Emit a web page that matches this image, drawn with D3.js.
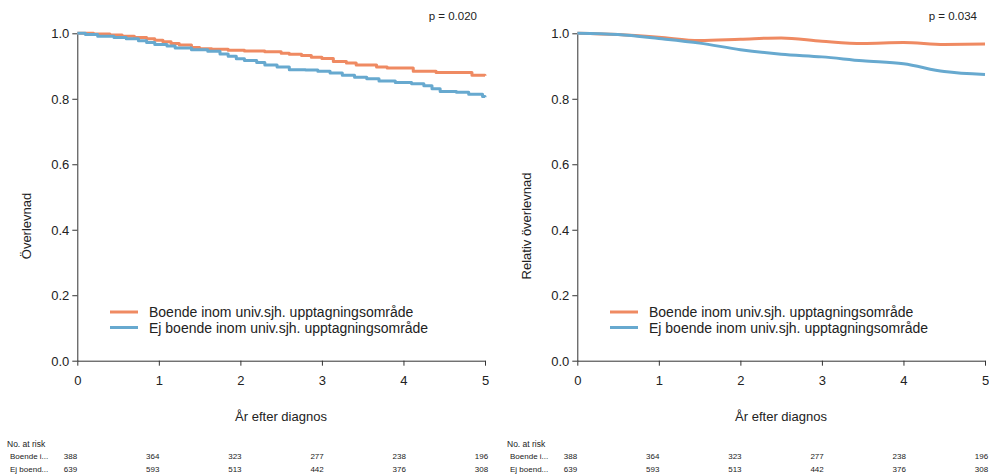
<!DOCTYPE html>
<html>
<head>
<meta charset="utf-8">
<script src="https://cdn.jsdelivr.net/npm/d3@7"></script>
<style>
  body { margin: 0; background: #fff; }
  svg { display: block; font-family: "Liberation Sans", Arial, sans-serif; }
</style>
</head>
<body>
<svg id="chart" width="989" height="475"></svg>
<script>
// group labels
const groups = ["Boende inom univ.sjh. upptagningsområde", "Ej boende inom univ.sjh. upptagningsområde"];
const groupShort = ["Boende i...", "Ej boend..."];
const colors = ["#EF8A62", "#67A9CF"];

// Kaplan-Meier steps (years, survival)
const kmBoende = [
  [0.00, 1.000], [0.20, 0.998], [0.40, 0.995], [0.55, 0.991], [0.70, 0.987],
  [0.85, 0.983], [0.95, 0.979], [1.05, 0.974], [1.15, 0.969], [1.25, 0.964],
  [1.40, 0.957], [1.50, 0.953], [1.65, 0.951], [1.85, 0.948], [2.05, 0.946],
  [2.30, 0.944], [2.50, 0.939], [2.60, 0.936], [2.75, 0.932], [2.87, 0.927],
  [3.00, 0.923], [3.14, 0.914], [3.30, 0.909], [3.42, 0.903], [3.67, 0.897],
  [3.80, 0.894], [4.12, 0.884], [4.40, 0.880], [4.84, 0.872], [5.00, 0.870]
];
const kmEjBoende = [
  [0.00, 1.000], [0.10, 0.996], [0.25, 0.991], [0.45, 0.987], [0.60, 0.983],
  [0.75, 0.977], [0.85, 0.972], [0.95, 0.966], [1.10, 0.961], [1.20, 0.955],
  [1.40, 0.950], [1.60, 0.945], [1.75, 0.937], [1.85, 0.930], [1.95, 0.922],
  [2.05, 0.917], [2.20, 0.911], [2.30, 0.903], [2.45, 0.897], [2.60, 0.889],
  [2.80, 0.888], [2.95, 0.884], [3.10, 0.879], [3.25, 0.872], [3.40, 0.866],
  [3.55, 0.861], [3.70, 0.854], [3.90, 0.850], [4.10, 0.846], [4.25, 0.840],
  [4.35, 0.831], [4.45, 0.822], [4.65, 0.820], [4.80, 0.814], [4.97, 0.807],
  [5.00, 0.805]
];

// relative survival (years, relative survival)
const relBoende = [
  [0, 1.000], [0.5, 0.996], [1, 0.988], [1.5, 0.978], [2, 0.982], [2.5, 0.986],
  [3, 0.976], [3.5, 0.969], [4, 0.972], [4.5, 0.966], [5, 0.967]
];
const relEjBoende = [
  [0, 1.000], [0.5, 0.996], [1, 0.984], [1.5, 0.970], [2, 0.950], [2.5, 0.936],
  [3, 0.928], [3.5, 0.916], [4, 0.907], [4.5, 0.883], [5, 0.874]
];

const atRiskYears = [0, 1, 2, 3, 4, 5];
const atRiskBoende = [388, 364, 323, 277, 238, 196];
const atRiskEjBoende = [639, 593, 513, 442, 376, 308];

const xTicks = [0, 1, 2, 3, 4, 5];
const yTicks = [0, 0.2, 0.4, 0.6, 0.8, 1.0];

const panels = [
  { ox: 0, title: "Överlevnad", p: "p = 0.020", series: [kmBoende, kmEjBoende], curve: d3.curveStepAfter },
  { ox: 500, title: "Relativ överlevnad", p: "p = 0.034", series: [relBoende, relEjBoende], curve: d3.curveMonotoneX }
];

const svg = d3.select("#chart");
const axisColor = "#333";

panels.forEach(panel => {
  const g = svg.append("g").attr("transform", `translate(${panel.ox},0)`);

  const x = d3.scaleLinear().domain([0, 5]).range([77.3, 485]);
  const y = d3.scaleLinear().domain([0, 1]).range([360.7, 33.3]);

  // axes
  const xAxis = g.append("g")
    .attr("transform", `translate(0,${y(0)})`)
    .call(d3.axisBottom(x).tickValues(xTicks).tickFormat(d3.format("d")).tickSize(5).tickSizeOuter(0));
  const yAxis = g.append("g")
    .attr("transform", `translate(${x(0)},0)`)
    .call(d3.axisLeft(y).tickValues(yTicks).tickFormat(d3.format(".1f")).tickSize(5).tickSizeOuter(0));

  [xAxis, yAxis].forEach(a => {
    a.select(".domain").attr("stroke", axisColor);
    a.selectAll(".tick line").attr("stroke", axisColor);
    a.selectAll(".tick text")
      .attr("fill", "#222")
      .style("font-size", "13px")
      .style("font-family", "Liberation Sans, Arial, sans-serif");
  });
  xAxis.selectAll(".tick text").attr("dy", null).attr("y", 24);
  yAxis.selectAll(".tick text").attr("x", -8).attr("dy", "0.36em");

  // curves
  const line = d3.line()
    .x(d => x(d[0]))
    .y(d => y(d[1]))
    .curve(panel.curve);

  panel.series.forEach((s, i) => {
    g.append("path")
      .datum(s)
      .attr("d", line)
      .attr("fill", "none")
      .attr("stroke", colors[i])
      .attr("stroke-width", 3)
      .attr("stroke-linejoin", "round");
  });

  // p-value
  g.append("text")
    .attr("x", 477)
    .attr("y", 20)
    .attr("text-anchor", "end")
    .style("font-size", "11.5px")
    .attr("fill", "#222")
    .text(panel.p);

  // axis titles
  g.append("text")
    .attr("transform", `translate(31,${226}) rotate(-90)`)
    .attr("text-anchor", "middle")
    .style("font-size", "13px")
    .attr("fill", "#222")
    .text(panel.title);

  g.append("text")
    .attr("x", 281)
    .attr("y", 421)
    .attr("text-anchor", "middle")
    .style("font-size", "13px")
    .attr("fill", "#222")
    .text("År efter diagnos");

  // legend
  const leg = g.append("g").attr("transform", "translate(110,312)");
  groups.forEach((name, i) => {
    const row = leg.append("g").attr("transform", `translate(0,${i * 15.5})`);
    row.append("line")
      .attr("x1", 0).attr("x2", 28)
      .attr("stroke", colors[i])
      .attr("stroke-width", 3);
    row.append("text")
      .attr("x", 39)
      .attr("y", 5)
      .style("font-size", "14px")
      .attr("fill", "#222")
      .text(name);
  });

  // number at risk table
  const col = d3.scaleLinear().domain([0, 5]).range([70.5, 481.5]);
  const tbl = g.append("g").style("font-size", "8px").attr("fill", "#222");
  tbl.append("text").attr("x", 7).attr("y", 447).style("font-size", "8.5px").text("No. at risk");
  [atRiskBoende, atRiskEjBoende].forEach((vals, i) => {
    const yy = 459 + i * 13;
    tbl.append("text").attr("x", 10).attr("y", yy).text(groupShort[i]);
    tbl.selectAll(null)
      .data(vals)
      .join("text")
      .attr("x", (d, j) => col(atRiskYears[j]))
      .attr("y", yy)
      .attr("text-anchor", "middle")
      .text(d => d);
  });
});
</script>
</body>
</html>
